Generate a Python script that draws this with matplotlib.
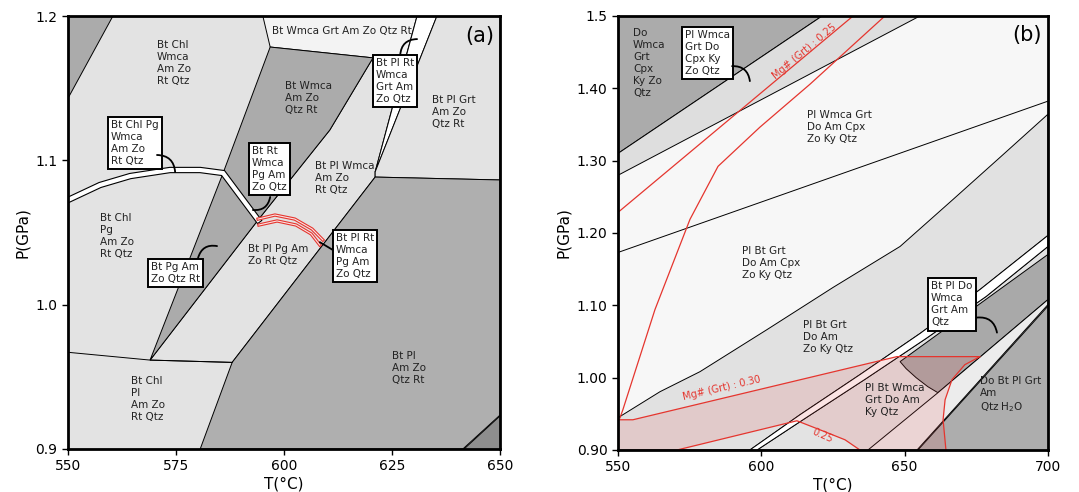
import matplotlib
matplotlib.use("Agg")
import matplotlib.pyplot as plt
from matplotlib.patches import Polygon

# ---------------- Panel (a): field boundaries (T degC, P GPa) ----------------
a_corner_tl = [(550, 1.2), (560.4, 1.2), (550, 1.143)]
a_top_strip = [(595.1, 1.2), (630.8, 1.2), (628.0, 1.1695), (620.6, 1.171), (596.8, 1.1785)]
a_dark_band = [(596.8, 1.1785), (620.6, 1.171), (610.6, 1.121), (594.0, 1.0587),
               (569.0, 0.9616), (585.9, 1.0912)]
a_light_band = [(620.6, 1.171), (628.0, 1.1695), (621.1, 1.092), (621.1, 1.0884),
                (588.0, 0.960), (569.0, 0.9616), (594.0, 1.0587), (610.6, 1.121)]
a_white_wedge = [(630.8, 1.2), (635.4, 1.2), (621.1, 1.092)]
a_grt_field = [(635.4, 1.2), (650, 1.2), (650, 1.0864), (621.1, 1.0884), (621.1, 1.092)]
a_pl_field = [(580.6, 0.9), (641.4, 0.9), (650, 0.9235), (650, 1.0864), (621.1, 1.0884), (588.0, 0.960)]
a_corner_br = [(641.4, 0.9), (650, 0.9), (650, 0.9235)]
a_chl_pl_line = [(550, 0.967), (569.0, 0.9616), (588.0, 0.960)]
a_pg_band = [(550, 1.0725), (557.4, 1.0829), (564.4, 1.0891), (573.6, 1.0933),
             (580.6, 1.0933), (585.9, 1.0912), (594.0, 1.0587)]
a_red_1 = [(594.0, 1.0593), (597.9, 1.0621), (602.5, 1.0593), (606.5, 1.0524), (609.0, 1.0448)]
a_red_2 = [(594.2, 1.0552), (598.4, 1.0580), (602.8, 1.0552), (606.3, 1.0490), (608.3, 1.0413)]

a_labels = ["Bt Chl\nWmca\nAm Zo\nRt Qtz", "Bt Chl Pg\nWmca\nAm Zo\nRt Qtz",
            "Bt Rt\nWmca\nPg Am\nZo Qtz", "Bt Wmca\nAm Zo\nQtz Rt",
            "Bt Wmca Grt Am Zo Qtz Rt", "Bt Pl Rt\nWmca\nGrt Am\nZo Qtz",
            "Bt Pl Grt\nAm Zo\nQtz Rt", "Bt Pl Wmca\nAm Zo\nRt Qtz",
            "Bt Chl\nPg\nAm Zo\nRt Qtz", "Bt Pg Am\nZo Qtz Rt",
            "Bt Pl Pg Am\nZo Rt Qtz", "Bt Pl Rt\nWmca\nPg Am\nZo Qtz",
            "Bt Pl\nAm Zo\nQtz Rt", "Bt Chl\nPl\nAm Zo\nRt Qtz"]
a_label_T = [570.6, 559.9, 592.6, 600.2, 597.2, 621.3, 634.3, 607.2, 557.4, 569.2, 591.7, 612.0, 625.0, 564.6]
a_label_P = [1.1834, 1.128, 1.1099, 1.155, 1.193, 1.171, 1.1453, 1.0995, 1.0635, 1.0296, 1.042, 1.0496, 0.9679, 0.9505]
a_label_box = [False, True, True, False, False, True, False, False, False, True, False, True, False, False]
# leader curves: (start T, start P, end T, end P, curvature)
a_leaders = [(570.6, 1.1037, 574.8, 1.0919, -0.45),
             (596.8, 1.0746, 592.8, 1.0656, -0.45),
             (626.9, 1.1730, 630.8, 1.1840, -0.45),
             (580.1, 1.0323, 584.5, 1.0406, -0.45),
             (611.3, 1.0379, 608.3, 1.0433, 0.0)]
a_xticks = [550, 575, 600, 625, 650]
a_yticks = [0.9, 1.0, 1.1, 1.2]
a_ytick_labels = ["0.9", "1.0", "1.1", "1.2"]

# ---------------- Panel (b) ----------------
b_corner_tl = [(550, 1.5), (621.2, 1.5), (550, 1.310)]
b_light_band = [(550, 1.310), (621.2, 1.5), (655.3, 1.5), (550, 1.2798)]
b_line_upper = [(550, 1.1731), (700, 1.3823)]
b_curve_c1 = [(550, 0.9446), (564.65, 0.9806), (578.6, 1.0083), (602.0, 1.0665), (625.0, 1.1247),
              (648.4, 1.1814), (666.9, 1.2465), (683.3, 1.3047), (700, 1.3643)]
b_band_top = [(596.0, 0.90), (613.5, 0.9488), (634.4, 1.0042), (655.3, 1.0609), (676.3, 1.1219), (700, 1.1967)]
b_band_bot = [(598.5, 0.90), (615.6, 0.9446), (636.5, 0.9986), (657.4, 1.0540), (678.4, 1.1122), (700, 1.1814)]
b_dark_wmca = [(648.4, 1.0222), (700, 1.1704), (700, 1.1080), (661.6, 0.9792), (658.1, 0.9875),
               (654.0, 1.0), (650.5, 1.0125)]
b_h2o_strip = [(637.2, 0.90), (661.6, 0.9792), (700, 1.1080), (700, 1.1011), (654.3, 0.90)]
b_h2o_field = [(654.3, 0.90), (700, 0.90), (700, 1.1011)]
b_mg25_upper = [(550, 1.2285), (632.0, 1.5)]
b_mg25_curve = [(550.7, 0.9446), (551.7, 0.9557), (562.9, 1.0942), (575.1, 1.2188), (584.9, 1.2922),
                (599.5, 1.3463), (617.0, 1.4058), (643.1, 1.5)]
b_mg30 = [(550, 0.9418), (555.2, 0.9418), (647.3, 1.0291), (676.3, 1.0291), (671.0, 1.018),
          (666.5, 0.9972), (664.1, 0.9695), (663.4, 0.9418), (664.4, 0.90)]
b_mg25_lower = [(570.6, 0.90), (612.4, 0.9404), (620.4, 0.928), (629.2, 0.9141), (634.4, 0.90)]

b_labels = ["Do\nWmca\nGrt\nCpx\nKy Zo\nQtz", "Pl Wmca\nGrt Do\nCpx Ky\nZo Qtz",
            "Pl Wmca Grt\nDo Am Cpx\nZo Ky Qtz", "Pl Bt Grt\nDo Am Cpx\nZo Ky Qtz",
            "Pl Bt Grt\nDo Am\nZo Ky Qtz", "Pl Bt Wmca\nGrt Do Am\nKy Qtz",
            "Bt Pl Do\nWmca\nGrt Am\nQtz", "Do Bt Pl Grt\nAm\nQtz H$_2$O"]
b_label_T = [555.2, 573.4, 615.9, 593.3, 614.5, 636.2, 659.2, 676.3]
b_label_P = [1.4834, 1.4806, 1.3698, 1.1814, 1.0803, 0.9931, 1.133, 1.0028]
b_label_box = [False, True, False, False, False, False, True, False]
b_leaders = [(589.8, 1.4307, 596.0, 1.4100, -0.45),
             (675.2, 1.0831, 682.2, 1.0623, -0.45)]
b_iso_labels = ["Mg# (Grt) : 0.30", "Mg# (Grt) : 0.25", "0.25"]
b_iso_T = [586.3, 614.9, 621.2]
b_iso_P = [0.9861, 1.4515, 0.9197]
b_iso_rot = [13, 40, -24]
b_xticks = [550, 600, 650, 700]
b_yticks = [0.9, 1.0, 1.1, 1.2, 1.3, 1.4, 1.5]
b_ytick_labels = ["0.90", "1.00", "1.10", "1.20", "1.30", "1.40", "1.5"]

# ---------------- styles ----------------
LIGHT = "#e3e3e3"
MED = "#ababab"
DARK = "#8e8e8e"
WHITEISH = "#f3f3f3"
RED = "#e5352e"
FS = 7.5
EDGE = 0.7

fig = plt.figure(figsize=(10.79, 4.92), dpi=100)
axA = fig.add_axes([68 / 1079, 1 - 449 / 492, 432 / 1079, 433 / 492])
axB = fig.add_axes([618 / 1079, 1 - 450 / 492, 430 / 1079, 434 / 492])


def poly(ax, pts, fc, z=1, lw=EDGE, ec="black"):
    ax.add_patch(Polygon(pts, closed=True, facecolor=fc, edgecolor=ec, lw=lw, zorder=z))


def line(ax, pts, **kw):
    xs = [p[0] for p in pts]
    ys = [p[1] for p in pts]
    ax.plot(xs, ys, **kw)


def labels(ax, texts, ts, ps, boxes):
    for s, t, p, b in zip(texts, ts, ps, boxes):
        kw = dict(fontsize=FS, ha="left", va="top", linespacing=1.25, zorder=6, color="#222222")
        if b:
            kw["bbox"] = dict(boxstyle="square,pad=0.3", fc="white", ec="black", lw=1.4)
        ax.text(t, p, s, **kw)


def leaders(ax, items):
    for t0, p0, t1, p1, rad in items:
        ax.annotate("", xy=(t1, p1), xytext=(t0, p0), zorder=7,
                    arrowprops=dict(arrowstyle="-", color="black", lw=1.3,
                                    connectionstyle="arc3,rad=%g" % rad,
                                    shrinkA=0, shrinkB=0))


def style(ax, xt, yt, ytl, xlim, ylim):
    ax.set_xlim(*xlim)
    ax.set_ylim(*ylim)
    ax.set_xticks(xt)
    ax.set_yticks(yt)
    ax.set_yticklabels(ytl)
    ax.tick_params(labelsize=10, length=4, width=1)
    for sp in ax.spines.values():
        sp.set_linewidth(2)
        sp.set_zorder(10)
    ax.set_xlabel("T(°C)", fontsize=11, labelpad=2)
    ax.set_ylabel("P(GPa)", fontsize=11, labelpad=4)


# ---------------- draw (a) ----------------
axA.set_facecolor(LIGHT)
poly(axA, a_corner_tl, MED)
poly(axA, a_top_strip, WHITEISH)
poly(axA, a_light_band, LIGHT)
poly(axA, a_dark_band, MED)
poly(axA, a_white_wedge, "white")
poly(axA, a_grt_field, LIGHT)
poly(axA, a_pl_field, "#afafaf")
poly(axA, a_corner_br, DARK)
line(axA, a_chl_pl_line, color="black", lw=EDGE, zorder=2)
line(axA, a_pg_band, color="black", lw=4.6, zorder=3, solid_joinstyle="miter")
line(axA, a_pg_band, color="white", lw=3.0, zorder=3, solid_joinstyle="miter")
for r in (a_red_1, a_red_2):
    line(axA, r, color=RED, lw=2.4, zorder=4)
    line(axA, r, color="#fbe3e3", lw=0.8, zorder=4)
labels(axA, a_labels, a_label_T, a_label_P, a_label_box)
leaders(axA, a_leaders)
axA.text(645.4, 1.186, "(a)", fontsize=15, ha="center", va="center", zorder=6)
style(axA, a_xticks, a_yticks, a_ytick_labels, (550, 650), (0.9, 1.2))

# ---------------- draw (b) ----------------
axB.set_facecolor("#f7f7f7")
poly(axB, b_corner_tl, MED)
poly(axB, b_light_band, "#dedede")
line(axB, b_line_upper, color="black", lw=EDGE, zorder=2)
g1 = b_curve_c1 + [b_band_top[-1]] + b_band_top[::-1] + [(550, 0.90)]
poly(axB, g1, "#e1e1e1")
g2 = b_band_bot + [(700, 0.90)]
poly(axB, g2, "#e3e3e3")
band = b_band_top + b_band_bot[::-1]
poly(axB, band, "white")
poly(axB, b_dark_wmca, "#a9a9a9")
poly(axB, b_h2o_strip, "#ececec")
poly(axB, b_h2o_field, "#adadad")
pink = b_mg30 + [(634.4, 0.90)] + b_mg25_lower[::-1] + [(550, 0.90)]
axB.add_patch(Polygon(pink, closed=True, facecolor=(0.9, 0.3, 0.3, 0.15), edgecolor="none", zorder=3))
for r in (b_mg25_upper, b_mg25_curve, b_mg30, b_mg25_lower):
    line(axB, r, color=RED, lw=0.9, zorder=4)
labels(axB, b_labels, b_label_T, b_label_P, b_label_box)
leaders(axB, b_leaders)
for s, t, p, r in zip(b_iso_labels, b_iso_T, b_iso_P, b_iso_rot):
    axB.text(t, p, s, fontsize=7, color=RED, rotation=r, ha="center", va="center",
             rotation_mode="anchor", zorder=6)
axB.text(692.7, 1.4737, "(b)", fontsize=15, ha="center", va="center", zorder=6)
style(axB, b_xticks, b_yticks, b_ytick_labels, (550, 700), (0.9, 1.5))

fig.savefig("out.png", dpi=100)
